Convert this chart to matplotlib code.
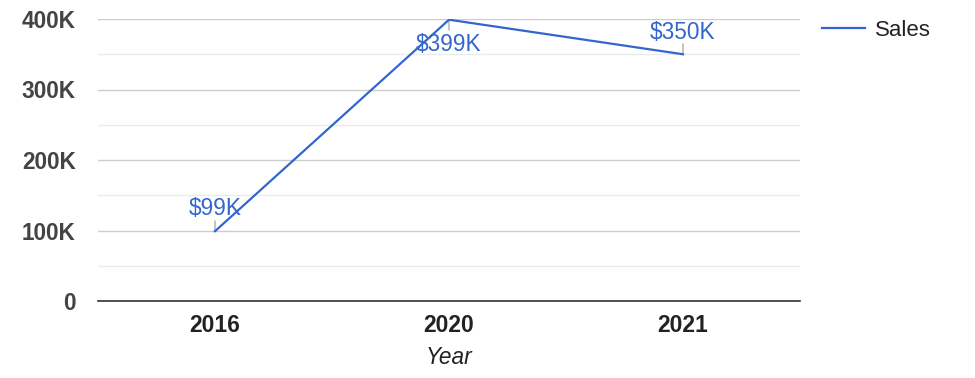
import matplotlib.pyplot as plt
import numpy as np

# dados do gráfico
years = ['2016', '2020', '2021']
sales = [99000, 399000, 350000]
labels = ['$99K', '$399K', '$350K']
label_side = [1, -1, 1]   # 1 = acima do ponto, -1 = abaixo

y_ticks = [0, 100000, 200000, 300000, 400000]
y_tick_labels = ['0', '100K', '200K', '300K', '400K']
minor_ticks = [50000, 150000, 250000, 350000]

blue = '#3366cc'

plt.rcParams['font.family'] = ['Liberation Sans', 'DejaVu Sans']

fig = plt.figure(figsize=(9.75, 3.78), dpi=100)
ax = fig.add_axes([98 / 975, 1 - 301 / 378, 702 / 975, 282 / 378])

x = np.arange(len(years))
line, = ax.plot(x, sales, color=blue, lw=1.6, label='Sales', zorder=3)

# rótulos de valor com pequeno traço
for xi, v, lab, s in zip(x, sales, labels, label_side):
    ax.annotate('', xy=(xi, v), xytext=(0, 7.5 * s), textcoords='offset points',
                arrowprops=dict(arrowstyle='-', color='#999999', lw=0.8,
                                shrinkA=0, shrinkB=0), zorder=2)
    off = 16 if s > 0 else 17.5
    ax.annotate(lab, xy=(xi, v), xytext=(0, off * s), textcoords='offset points',
                ha='center', va='center', color=blue, fontsize=16.3, zorder=4)

ax.set_xlim(-0.5, len(years) - 0.5)
ax.set_ylim(0, 400000)

ax.set_yticks(y_ticks)
ax.set_yticklabels(y_tick_labels, fontsize=16.3, fontweight='bold', color='#444444')
ax.set_yticks(minor_ticks, minor=True)
ax.set_xticks(x)
ax.set_xticklabels(years, fontsize=16.5, fontweight='bold', color='#222222')

ax.tick_params(axis='y', which='both', length=0, pad=16)
ax.tick_params(axis='x', length=0, pad=9)

ax.grid(axis='y', which='major', color='#cccccc', lw=1)
ax.grid(axis='y', which='minor', color='#ebebeb', lw=1)
ax.set_axisbelow(True)

for side in ['top', 'right', 'left']:
    ax.spines[side].set_visible(False)
ax.spines['bottom'].set_color('#333333')
ax.spines['bottom'].set_linewidth(1.2)
ax.spines['bottom'].set_zorder(5)

ax.set_xlabel('Year', fontsize=16.3, style='italic', color='#222222', labelpad=7)

fig.legend(handles=[line], loc='center left', bbox_to_anchor=(822 / 975, 1 - 30 / 378),
           frameon=False, fontsize=16, handlelength=1.95, handletextpad=0.45,
           borderpad=0, borderaxespad=0, labelcolor='#222222')

fig.savefig('out.png', dpi=100)
